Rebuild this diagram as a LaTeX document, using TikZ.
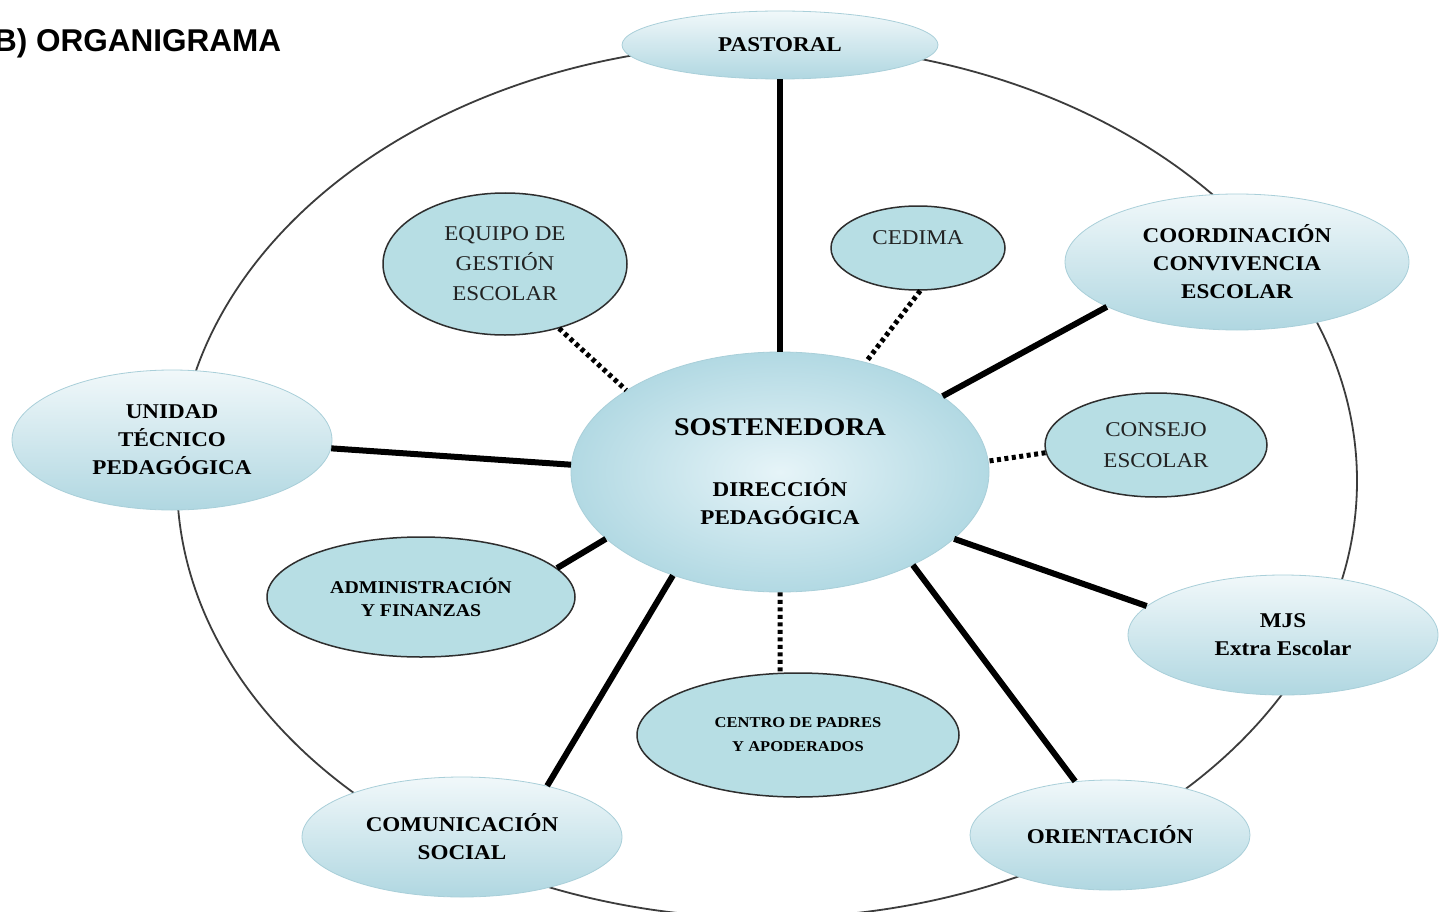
\documentclass[tikz,border=0pt]{standalone}
\usepackage{fontspec}
\setmainfont{Liberation Serif}[FakeStretch=1.1]
\newfontfamily\titlefont{Liberation Sans}
\usetikzlibrary{shapes.geometric}
\definecolor{outtop}{HTML}{F1F8FA}
\definecolor{outmid}{HTML}{D6ECF1}
\definecolor{outbot}{HTML}{B0D7E1}
\definecolor{outline}{HTML}{A9CFD9}
\definecolor{cinner}{HTML}{E6F4F8}
\definecolor{couter}{HTML}{B2D9E3}
\definecolor{innerfill}{HTML}{B7DEE4}
\definecolor{innerline}{HTML}{2E2E2E}
\definecolor{innertext}{HTML}{222222}
\definecolor{ringcol}{HTML}{3C3C3C}
\begin{document}
\begin{tikzpicture}[x=1pt,y=-1pt,
  outer/.style={ellipse, top color=outtop, middle color=outmid, bottom color=outbot,
    draw=outline, line width=0.8pt, inner sep=0pt, align=center, text=black,
    font=\fontsize{21}{28}\selectfont\bfseries},
  central/.style={ellipse, inner color=cinner, outer color=couter,
    draw=outline, line width=0.8pt, inner sep=0pt, align=center, text=black,
    font=\fontsize{21}{28}\selectfont\bfseries},
  inner/.style={ellipse, fill=innerfill, draw=innerline, line width=1.5pt,
    inner sep=0pt, align=center, text=innertext,
    font=\fontsize{21}{30}\selectfont},
  innerbold/.style={inner, text=black},
  solidlink/.style={line width=6pt, black},
  dotlink/.style={line width=5pt, black, dash pattern=on 4pt off 3.5pt},
  ring/.style={draw=ringcol, line width=1.8pt}]
\useasboundingbox (0,0) rectangle (1439,912);
\fill[white] (0,0) rectangle (1439,912);

% outer ring
\draw[ring] (767,481) ellipse [x radius=590, y radius=437];

% title
\node[anchor=base west, inner sep=0pt, font=\titlefont\fontsize{31.5}{36}\selectfont\bfseries] (title) at (-6,52) {B) ORGANIGRAMA};

% outer nodes
\node[outer, minimum width=316pt, minimum height=68pt] (pastoral) at (780,45) {PASTORAL};
\node[outer, minimum width=344pt, minimum height=136pt] (coord) at (1237,262) {COORDINACIÓN\\CONVIVENCIA\\ESCOLAR};
\node[outer, minimum width=320pt, minimum height=140pt] (unidad) at (172,440) {UNIDAD\\TÉCNICO\\PEDAGÓGICA};
\node[outer, minimum width=310pt, minimum height=120pt] (mjs) at (1283,635) {MJS\\Extra Escolar};
\node[outer, minimum width=320pt, minimum height=120pt] (com) at (462,837) {COMUNICACIÓN\\SOCIAL};
\node[outer, minimum width=280pt, minimum height=110pt] (ori) at (1110,835) {ORIENTACIÓN};

% central node
\node[central, minimum width=418pt, minimum height=240pt] (c) at (780,472)
  {{\fontsize{25.5}{28}\selectfont SOSTENEDORA}\\[33pt]DIRECCIÓN\\PEDAGÓGICA};

% inner nodes
\node[inner, minimum width=244pt, minimum height=142pt] (equipo) at (505,264) {EQUIPO DE\\GESTIÓN\\ESCOLAR};
\node[inner, minimum width=174pt, minimum height=84pt] (cedima) at (918,248) {\raisebox{4pt}[0pt][0pt]{CEDIMA}};
\node[inner, minimum width=222pt, minimum height=104pt, font=\fontsize{21}{31}\selectfont] (consejo) at (1156,445) {CONSEJO\\ESCOLAR};
\node[innerbold, minimum width=308pt, minimum height=120pt, font=\fontsize{18}{23}\selectfont\bfseries] (admin) at (421,597) {ADMINISTRACIÓN\\Y FINANZAS};
\node[innerbold, minimum width=322pt, minimum height=124pt, font=\fontsize{15}{24}\selectfont\bfseries] (centro) at (798,735) {CENTRO DE PADRES\\Y APODERADOS};

% connectors
\draw[solidlink] (pastoral.south) -- (c.north);
\draw[solidlink] (coord.199) -- (c.25);
\draw[solidlink] (unidad.357) -- (c.178);
\draw[solidlink] (mjs.168) -- (c.339);
\draw[solidlink] (admin.12) -- (c.201);
\draw[solidlink] (com.31) -- (c.224);
\draw[solidlink] (ori.123) -- (c.325);
\draw[dotlink] (equipo.310) -- (c.152);
\draw[dotlink] (cedima.273) -- (c.52);
\draw[dotlink] (consejo.184) -- (c.3);
\draw[dotlink] (c.south) -- (centro.106);
\end{tikzpicture}
\end{document}
